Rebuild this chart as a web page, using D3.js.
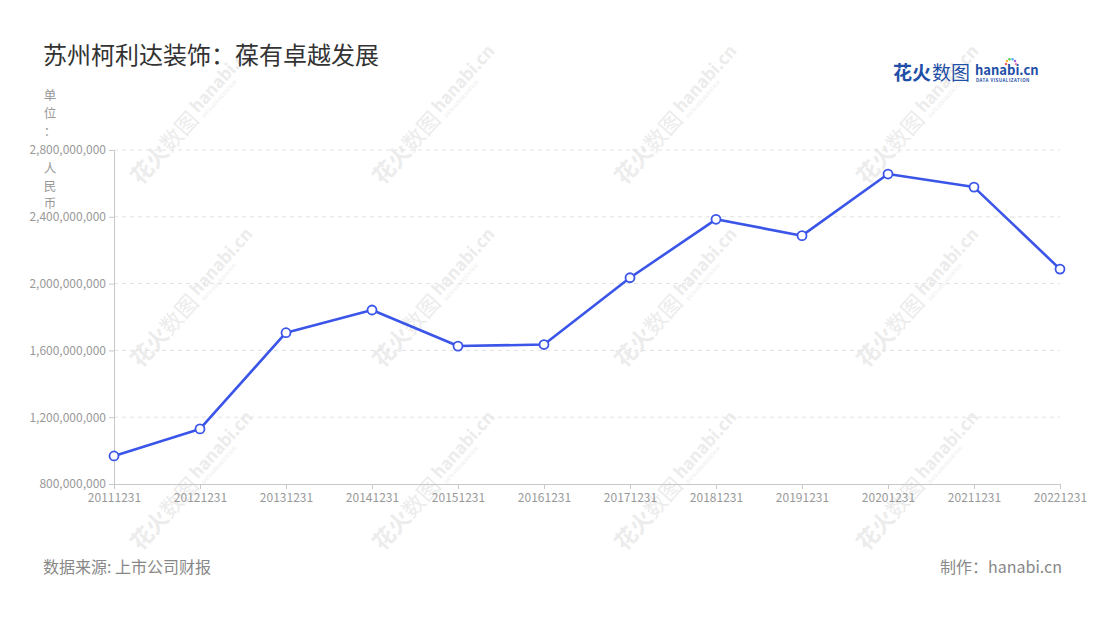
<!DOCTYPE html>
<html><head><meta charset="utf-8">
<script src="https://cdn.jsdelivr.net/npm/d3@7/dist/d3.min.js"></script>
<style>
html,body{margin:0;padding:0;background:#fff;}
text{font-family:"Noto Sans CJK SC","Noto Sans",sans-serif;}
</style></head>
<body><svg id="c" width="1100" height="620"></svg>
<script>
const categories = ["20111231","20121231","20131231","20141231","20151231","20161231","20171231","20181231","20191231","20201231","20211231","20221231"];
const values = [968000000,1130000000,1706000000,1842000000,1626000000,1635000000,2035000000,2385000000,2287000000,2656000000,2578000000,2087000000];
const yTicks = [800000000,1200000000,1600000000,2000000000,2400000000,2800000000];
const titleText = "苏州柯利达装饰：葆有卓越发展";
const unitChars = ["单","位","：","人","民","币"];
const sourceText = "数据来源: 上市公司财报";
const makerText = "制作：hanabi.cn";

(function(){
const svg = d3.select("#c");
const pLeft = 114, pRight = 1060, pTop = 150, pBottom = 484;
const x = d3.scalePoint().domain(categories).range([pLeft, pRight]);
const y = d3.scaleLinear().domain([800000000, 2800000000]).range([pBottom, pTop]);

// watermarks
const wmX = [183, 425, 667, 909], wmY = [127, 310, 493];
wmY.forEach(cy => wmX.forEach(cx => {
  const g = svg.append("g").attr("transform", `translate(${cx},${cy}) rotate(-48)`).attr("opacity", 0.4);
  g.append("text").attr("x", -72).attr("y", 8).attr("font-size", 22).attr("font-weight", 700).attr("fill", "#d0d0d0").text("花火");
  g.append("text").attr("x", -28).attr("y", 8).attr("font-size", 22).attr("fill", "#d0d0d0").text("数图");
  g.append("text").attr("x", 20).attr("y", 2).attr("font-size", 17).attr("font-weight", 700).attr("fill", "#d0d0d0").text("hanabi.cn");
  g.append("text").attr("x", 21).attr("y", 10).attr("font-size", 5).attr("fill", "#d0d0d0").text("DATA VISUALIZATION");
}));

// title
svg.append("text").attr("x", 43).attr("y", 64).attr("font-size", 24).attr("fill", "#333").text(titleText);

// logo
svg.append("text").attr("x", 893).attr("y", 80).attr("font-size", 19).attr("font-weight", 700).attr("fill", "#1f4fa6").text("花火");
svg.append("text").attr("x", 932).attr("y", 80).attr("font-size", 19).attr("fill", "#1f4fa6").text("数图");
svg.append("text").attr("x", 975).attr("y", 75).attr("font-size", 13).attr("font-weight", 700).attr("fill", "#1f4fa6").text("hanabi.cn");
svg.append("text").attr("x", 976).attr("y", 82).attr("font-size", 4.4).attr("font-weight", 700).attr("fill", "#1f4fa6").attr("letter-spacing", 0.5).text("DATA VISUALIZATION");
const dotCols = ["#f25c5c","#f7b731","#4cd137","#45aaf2","#a55eea","#fd79a8"];
dotCols.forEach((c,i)=>{ const a = -Math.PI + i*Math.PI/5;
  svg.append("circle").attr("cx", 1011 + Math.cos(a)*5).attr("cy", 64 + Math.sin(a)*5).attr("r", 1.2).attr("fill", c); });

// gridlines
svg.append("g").selectAll("line").data(yTicks.filter(d => d > 800000000)).join("line")
  .attr("x1", pLeft).attr("x2", pRight).attr("y1", d => y(d)).attr("y2", d => y(d))
  .attr("stroke", "#e2e2e2").attr("stroke-dasharray", "4,4").attr("stroke-width", 1);

// y axis
const yAxis = svg.append("g").attr("transform", `translate(${pLeft},0)`)
  .call(d3.axisLeft(y).tickValues(yTicks).tickFormat(d3.format(",")).tickSize(5).tickPadding(3));
yAxis.select(".domain").attr("stroke", "#c8c8c8");
yAxis.selectAll(".tick line").attr("stroke", "#c8c8c8");
yAxis.selectAll(".tick text").attr("fill", "#999").attr("font-size", 12).attr("font-family", '"Noto Sans CJK SC",sans-serif');

// x axis
const xAxis = svg.append("g").attr("transform", `translate(0,${pBottom})`)
  .call(d3.axisBottom(x).tickSize(5).tickPadding(4));
xAxis.select(".domain").attr("stroke", "#c8c8c8");
xAxis.selectAll(".tick line").attr("stroke", "#c8c8c8");
xAxis.selectAll(".tick text").attr("fill", "#999").attr("font-size", 12).attr("font-family", '"Noto Sans CJK SC",sans-serif');

// unit label
const unitY = [100, 118, 136, 173, 190.5, 207.5];
svg.append("g").selectAll("text").data(unitChars).join("text")
  .attr("x", 50).attr("y", (d,i) => unitY[i]).attr("text-anchor", "middle")
  .attr("font-size", 12.5).attr("fill", "#999").text(d => d);

// line
const data = categories.map((c,i) => ({c, v: values[i]}));
svg.append("path").datum(data)
  .attr("d", d3.line().x(d => x(d.c)).y(d => y(d.v)))
  .attr("fill", "none").attr("stroke", "#3a55e8").attr("stroke-width", 2.6).attr("stroke-linejoin", "round");
svg.append("g").selectAll("circle").data(data).join("circle")
  .attr("cx", d => x(d.c)).attr("cy", d => y(d.v)).attr("r", 4.5)
  .attr("fill", "#fff").attr("stroke", "#3a55e8").attr("stroke-width", 1.8);

// footer
svg.append("text").attr("x", 43).attr("y", 573).attr("font-size", 16).attr("fill", "#888").text(sourceText);
svg.append("text").attr("x", 1062).attr("y", 573).attr("text-anchor", "end").attr("font-size", 16).attr("fill", "#888").text(makerText);
})();
</script></body></html>
